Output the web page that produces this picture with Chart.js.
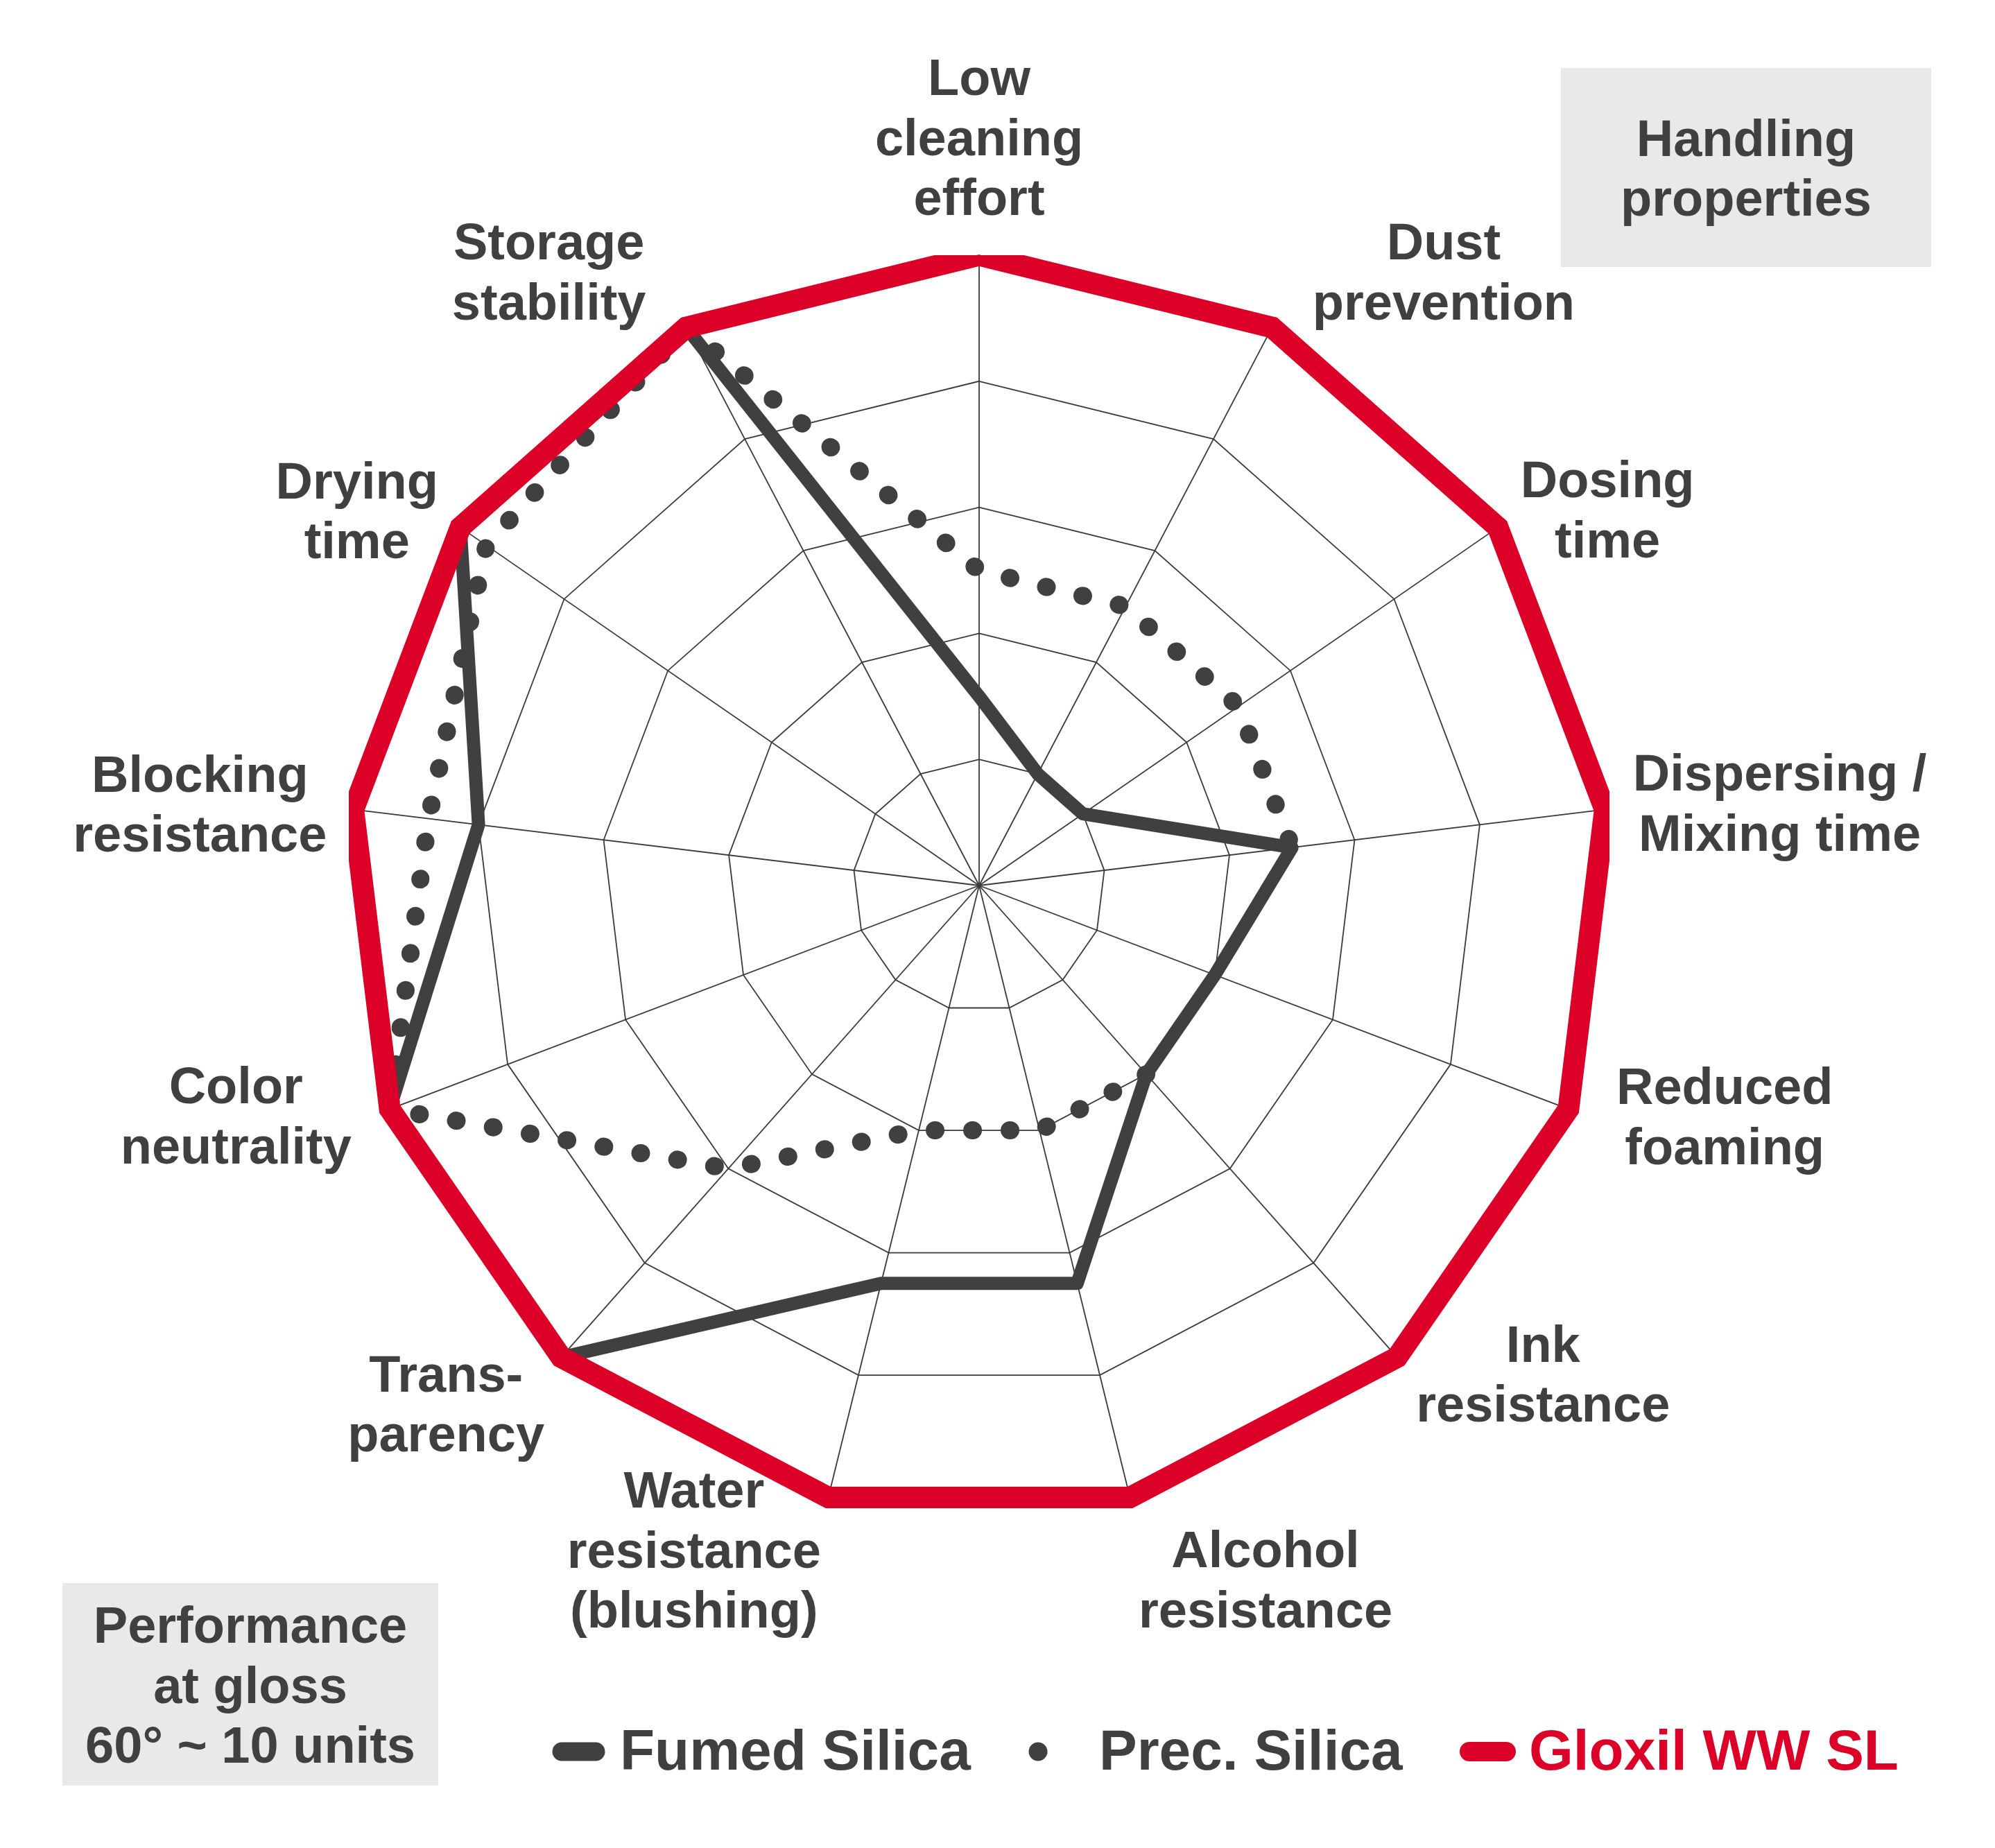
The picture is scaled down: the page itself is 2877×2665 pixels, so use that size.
<!DOCTYPE html>
<html>
<head>
<meta charset="utf-8">
<script src="https://cdn.jsdelivr.net/npm/chart.js@4.4.1/dist/chart.umd.min.js"></script>
<style>
html,body{margin:0;padding:0;background:#ffffff;}
canvas{display:block;}
</style>
</head>
<body>
<canvas id="chart" width="2877" height="2665"></canvas>
<script>
// ---------- data ----------
const categories = [
  ["Low", "cleaning", "effort"],
  ["Dust", "prevention"],
  ["Dosing", "time"],
  ["Dispersing /", "Mixing time"],
  ["Reduced", "foaming"],
  ["Ink", "resistance"],
  ["Alcohol", "resistance"],
  ["Water", "resistance", "(blushing)"],
  ["Trans-", "parency"],
  ["Color", "neutrality"],
  ["Blocking", "resistance"],
  ["Drying", "time"],
  ["Storage", "stability"]
];
const seriesNames = ["Fumed Silica", "Prec. Silica", "Gloxil WW SL"];
const fumedSilica = [1.5, 1, 1, 2.5, 2, 2, 3.25, 3.25, 5, 5, 4, 5, 5];
const precSilica  = [2.5, 2.5, 2.5, 2.5, null, 2, 2, 2, 3, 5, 4.4, 4.75, 5];
const gloxilWWSL  = [5, 5, 5, 5, 5, 5, 5, 5, 5, 5, 5, 5, 5];
const scaleMin = 0, scaleMax = 5, scaleStep = 1;
const handlingText = ["Handling", "properties"];
const performanceText = ["Performance", "at gloss", "60\u00B0 ~ 10 units"];

// ---------- styles / layout ----------
const DARK = '#404040';
const GRID = '#3a3a3a';
const RED = '#DC0029';
const BOX = '#E9E9E9';
const FONT = '"Liberation Sans", Arial, sans-serif';
const LABEL_SIZE = 74, LINE_H = 86.7, CAP_H = 53;
// polar placement of category labels: [distance / radius, angle offset in degrees]
const labelPlacement = [
  [1.188, 0], [1.222, 9.4], [1.162, 3.7], [1.277, 1.0], [1.238, -3.6],
  [1.183, -7.6], [1.190, -8.6], [1.146, 9.4], [1.179, 4.3], [1.234, 3.6],
  [1.243, -0.9], [1.153, -3.5], [1.190, -7.3]
];

const decor = {
  id: 'decor',
  beforeDraw(chart) {
    const c = chart.ctx;
    c.save();
    c.fillStyle = '#ffffff';
    c.fillRect(0, 0, chart.width, chart.height);
    c.restore();
  },
  afterDraw(chart) {
    const c = chart.ctx;
    const s = chart.scales.r;
    c.save();
    c.fillStyle = DARK;
    c.textAlign = 'center';
    c.textBaseline = 'alphabetic';
    c.font = 'bold ' + LABEL_SIZE + 'px ' + FONT;
    // category labels
    chart.data.labels.forEach((lines, i) => {
      const [k, da] = labelPlacement[i];
      const ang = s.getIndexAngle(i) - Math.PI / 2 + da * Math.PI / 180;
      const d = s.drawingArea * k;
      const cx = s.xCenter + Math.cos(ang) * d;
      const cy = s.yCenter + Math.sin(ang) * d;
      const n = lines.length;
      const first = cy - (CAP_H + (n - 1) * LINE_H) / 2 + CAP_H;
      lines.forEach((t, j) => c.fillText(t, cx, first + j * LINE_H));
    });
    // boxes
    const drawBox = (x, y, w, h, lines) => {
      c.fillStyle = BOX;
      c.fillRect(x, y, w, h);
      c.fillStyle = DARK;
      const n = lines.length;
      const first = y + h / 2 - (CAP_H + (n - 1) * LINE_H) / 2 + CAP_H;
      lines.forEach((t, j) => c.fillText(t, x + w / 2, first + j * LINE_H));
    };
    drawBox(2251, 98, 534, 287, handlingText);
    drawBox(90, 2283, 542, 292, performanceText);
    // legend
    const ds = chart.data.datasets;
    const legY = 2526, legBase = 2552;
    c.font = 'bold 82px ' + FONT;
    c.textAlign = 'left';
    c.lineCap = 'round';
    // fumed
    c.strokeStyle = ds[0].borderColor; c.lineWidth = 27;
    c.beginPath(); c.moveTo(810, legY); c.lineTo(859, legY); c.stroke();
    c.fillStyle = DARK; c.fillText(ds[0].label, 894, legBase);
    // prec
    c.fillStyle = ds[1].borderColor;
    c.beginPath(); c.arc(1497, legY, 13.5, 0, Math.PI * 2); c.fill();
    c.fillStyle = DARK; c.fillText(ds[1].label, 1585, legBase);
    // gloxil
    c.strokeStyle = ds[2].borderColor; c.lineWidth = 28;
    c.beginPath(); c.moveTo(2119, legY); c.lineTo(2172, legY); c.stroke();
    c.fillStyle = RED; c.fillText(ds[2].label, 2205, legBase);
    c.restore();
  }
};

new Chart(document.getElementById('chart'), {
  type: 'radar',
  data: {
    labels: categories,
    datasets: [
      {
        label: seriesNames[0], data: fumedSilica, order: 1,
        borderColor: DARK, borderWidth: 19, borderCapStyle: 'round', borderJoinStyle: 'round',
        pointRadius: 0, fill: false, tension: 0, clip: 0
      },
      {
        label: seriesNames[1], data: precSilica, order: 2,
        borderColor: DARK, borderWidth: 26, borderDash: [1, 53], borderCapStyle: 'round', borderJoinStyle: 'round',
        pointRadius: 0, fill: false, tension: 0, spanGaps: false, clip: 0
      },
      {
        label: seriesNames[2], data: gloxilWWSL, order: 0,
        borderColor: RED, borderWidth: 31, borderJoinStyle: 'miter',
        pointRadius: 0, fill: false, tension: 0, clip: 0
      }
    ]
  },
  options: {
    responsive: false,
    animation: false,
    devicePixelRatio: 1,
    layout: { padding: { left: 503, top: 368, right: 556, bottom: 479 } },
    plugins: { legend: { display: false }, tooltip: { enabled: false }, title: { display: false } },
    scales: {
      r: {
        min: scaleMin, max: scaleMax,
        ticks: { display: false, stepSize: scaleStep },
        grid: { color: GRID, lineWidth: 1.8 },
        angleLines: { color: GRID, lineWidth: 1.8 },
        pointLabels: { display: false }
      }
    }
  },
  plugins: [decor]
});
</script>
</body>
</html>
